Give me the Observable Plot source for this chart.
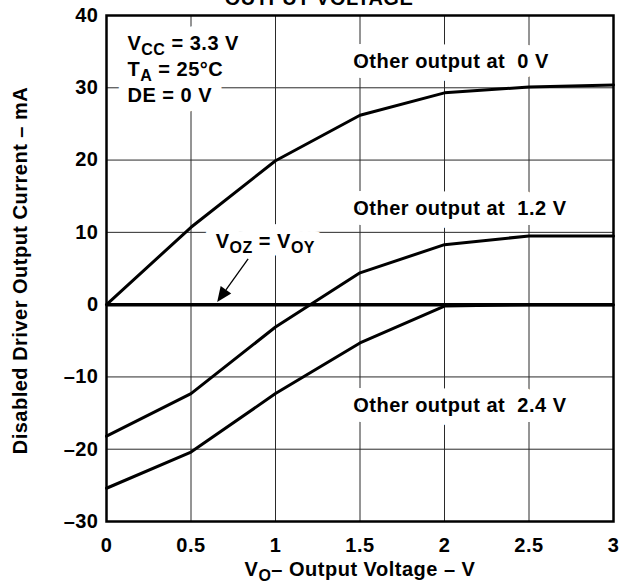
<!DOCTYPE html>
<html><head><meta charset="utf-8">
<script src="https://cdn.jsdelivr.net/npm/d3@7"></script>
<script src="https://cdn.jsdelivr.net/npm/@observablehq/plot@0.6"></script>
<style>body{margin:0;background:#fff}</style>
</head><body><div id="chart"></div>
<script>
// Data
const voltage = [0, 0.5, 1, 1.5, 2, 2.5, 3];
const current0V = [0, 10.7, 19.9, 26.2, 29.3, 30.1, 30.4];
const current12V = [-18.2, -12.3, -3.1, 4.4, 8.3, 9.5, 9.5];
const current24V = [-25.4, -20.4, -12.3, -5.3, -0.2, 0, 0];
const xTicks = [0, 0.5, 1, 1.5, 2, 2.5, 3];
const yTicks = [-30, -20, -10, 0, 10, 20, 30, 40];

// Annotations (anchored in data units)
const conditionLines = ["V_{CC} = 3.3 V", "T_{A} = 25°C", "DE = 0 V"];
const conditionX = [0.124, 0.124, 0.124];
const conditionY = [35.2, 31.6, 28.0];
const curveLabels = ["Other output at  0 V", "Other output at  1.2 V", "Other output at  2.4 V"];
const curveLabelX = [1.46, 1.46, 1.46];
const curveLabelY = [32.8, 12.35, -14.9];
const vozLabel = ["V_{OZ} = V_{OY}"];
const vozX = [0.646];
const vozY = [7.9];
const arrowFrom = [0.841, 6.27];
const arrowTo = [0.658, 0.3];
const titleText = ["OUTPUT VOLTAGE"];
const xLabel = ["V_{O}– Output Voltage – V"];
const yLabel = ["Disabled Driver Output Current – mA"];

const series = [
  {name: "0 V", values: current0V},
  {name: "1.2 V", values: current12V},
  {name: "2.4 V", values: current24V}
];
const rows = series.flatMap(s => voltage.map((v, i) => ({v, c: s.values[i], s: s.name})));
const condRows = conditionLines.map((t, i) => ({t, x: conditionX[i], y: conditionY[i]}));
const curveRows = curveLabels.map((t, i) => ({t, x: curveLabelX[i], y: curveLabelY[i]}));
const vozRows = vozLabel.map((t, i) => ({t, x: vozX[i], y: vozY[i]}));
const annoRows = [...condRows, ...curveRows, ...vozRows];

const FS = 20;
const fmtY = d => d < 0 ? "–" + Math.abs(d) : String(d);

function arrowMark(index, scales) {
  const x1 = scales.x(arrowFrom[0]), y1 = scales.y(arrowFrom[1]);
  const x2 = scales.x(arrowTo[0]), y2 = scales.y(arrowTo[1]);
  const ang = Math.atan2(y2 - y1, x2 - x1);
  const L = 15, W = 6.5;
  const bx = x2 - L * Math.cos(ang), by = y2 - L * Math.sin(ang);
  const g = d3.create("svg:g");
  g.append("line").attr("x1", x1).attr("y1", y1).attr("x2", bx).attr("y2", by)
    .attr("stroke", "black").attr("stroke-width", 1.3);
  g.append("path")
    .attr("d", `M${x2},${y2}L${bx - W * Math.sin(ang)},${by + W * Math.cos(ang)}L${bx + W * Math.sin(ang)},${by - W * Math.cos(ang)}Z`)
    .attr("fill", "black");
  return g.node();
}

const textOpts = {x: "x", y: "y", text: "t", textAnchor: "start", lineAnchor: "bottom", fontSize: FS, fontWeight: "bold"};

const plot = Plot.plot({
  width: 625,
  height: 585,
  marginLeft: 106,
  marginRight: 12,
  marginTop: 15,
  marginBottom: 64,
  style: {fontFamily: "'Liberation Sans', Arial, Helvetica, sans-serif", fontSize: FS + "px", fontWeight: "bold", color: "black", background: "white", letterSpacing: "0.5px"},
  x: {domain: [0, 3]},
  y: {domain: [-30, 40]},
  marks: [
    Plot.gridX(xTicks, {stroke: "#2a2a2a", strokeOpacity: 1, strokeWidth: 1}),
    Plot.gridY(yTicks, {stroke: "#2a2a2a", strokeOpacity: 1, strokeWidth: 1}),
    // white knock-out behind the annotation texts
    Plot.text(annoRows, {...textOpts, fill: "white", stroke: "white", strokeWidth: 20, strokeLinejoin: "round"}),
    Plot.text(annoRows, {...textOpts, fill: "black"}),
    Plot.ruleY([0], {stroke: "black", strokeWidth: 3.5}),
    Plot.line(rows, {x: "v", y: "c", z: "s", stroke: "black", strokeWidth: 3, strokeLinejoin: "miter"}),
    arrowMark,
    Plot.frame({stroke: "black", strokeWidth: 2.5}),
    Plot.axisX(xTicks, {tickSize: 0, tickPadding: 16, tickFormat: d => String(d), label: null, fontSize: FS, fontWeight: "bold"}),
    Plot.axisY(yTicks, {tickSize: 0, tickPadding: 8, tickFormat: fmtY, label: null, fontSize: FS, fontWeight: "bold"}),
    Plot.text(xLabel, {frameAnchor: "bottom", dy: 54, lineAnchor: "bottom", fontSize: FS, fontWeight: "bold"}),
    Plot.text(yLabel, {frameAnchor: "left", dx: -86, dy: 2, rotate: -90, lineAnchor: "middle", textAnchor: "middle", fontSize: FS, fontWeight: "bold"}),
    Plot.text(titleText, {frameAnchor: "top", dx: -41, dy: -11, lineAnchor: "bottom", fontSize: FS, fontWeight: "bold"})
  ]
});

// Render subscripts written as _{...}
const NS = "http://www.w3.org/2000/svg";
function applySub(el) {
  const s = el.textContent;
  if (!s.includes("_{")) return;
  el.textContent = "";
  const parts = s.split(/(_\{[^}]*\})/);
  let shifted = false;
  for (const p of parts) {
    if (!p) continue;
    const t = document.createElementNS(NS, "tspan");
    if (p.startsWith("_{")) {
      t.textContent = p.slice(2, -1);
      t.setAttribute("dy", "5");
      t.setAttribute("font-size", "16");
      shifted = true;
    } else {
      t.textContent = p;
      if (shifted) { t.setAttribute("dy", "-5"); shifted = false; }
    }
    el.appendChild(t);
  }
}
d3.select(plot).selectAll("text").each(function() {
  const tsp = this.querySelectorAll("tspan");
  if (tsp.length) tsp.forEach(applySub); else applySub(this);
});

document.getElementById("chart").appendChild(plot);
</script>
</body></html>
